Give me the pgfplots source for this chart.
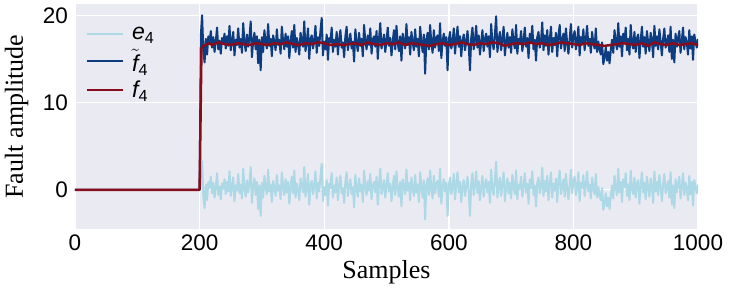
\documentclass[border=0pt]{standalone}
\usepackage{fontspec}
\setmainfont{Liberation Serif}
\newfontfamily\sfont{Liberation Sans}
\usepackage{pgfplots}
\pgfplotsset{compat=1.18}
\usepackage{pgfplotstable}
\definecolor{bg}{RGB}{234,234,242}
\definecolor{elight}{RGB}{173,216,230}
\definecolor{fdark}{RGB}{13,60,128}
\definecolor{fred}{RGB}{135,12,28}

\pgfplotstableread{
x e ft
0 0 0
200 0 0
202 1.0 17.7
204 3.3 20.0
206 -0.8 15.9
208 -2.1 14.6
210 0.6 17.3
212 -1.2 15.5
214 0.9 17.6
216 0.2 16.9
218 1.5 18.2
220 -0.4 16.3
222 0.8 17.5
224 -0.9 15.8
226 0.3 17.0
228 1.9 18.6
230 -0.6 16.1
232 0.4 17.1
234 -1.1 15.6
236 0.7 17.4
238 0.1 16.8
240 1.2 17.9
242 -0.5 16.2
244 0.9 17.6
246 -0.2 16.5
248 2.1 18.8
250 -0.7 16.0
252 0.3 17.0
254 1.4 18.1
256 -1.3 15.4
258 0.5 17.2
260 -0.1 16.6
262 1.8 18.5
264 -0.4 16.3
266 0.6 17.3
268 -1.0 15.7
270 2.4 19.1
272 0.2 16.9
274 -0.8 15.9
276 1.1 17.8
278 -0.3 16.4
280 0.7 17.4
282 2.6 19.3
284 -1.5 15.2
286 0.4 17.1
288 1.3 18.0
290 -0.6 16.1
292 0.9 17.6
294 -2.2 14.5
296 0.5 17.2
298 -3.0 13.7
300 0.8 17.5
302 -0.9 15.8
304 1.6 18.3
306 0.2 16.9
308 -0.5 16.2
310 2.3 19.0
312 -0.2 16.5
314 0.6 17.3
316 -1.4 15.3
318 1.0 17.7
320 0.3 17.0
322 -0.7 16.0
324 1.7 18.4
326 -0.1 16.6
328 0.5 17.2
330 -1.1 15.6
332 2.0 18.7
334 0.4 17.1
336 -0.6 16.1
338 1.2 17.9
340 -0.3 16.4
342 0.9 17.6
344 -1.6 15.1
346 0.3 17.0
348 1.5 18.2
350 -0.4 16.3
352 2.2 18.9
354 -0.9 15.8
356 0.7 17.4
358 0.1 16.8
360 -1.2 15.5
362 1.3 18.0
364 0.5 17.2
366 -0.3 16.4
368 2.6 19.3
370 -0.8 15.9
372 0.2 16.9
374 1.8 18.5
376 -1.7 15.0
378 0.6 17.3
380 1.0 17.7
382 -0.5 16.2
384 0.4 17.1
386 2.1 18.8
388 -1.0 15.7
390 0.8 17.5
392 -0.2 16.5
394 1.5 18.2
396 3.0 19.7
398 -1.3 15.4
400 0.3 17.0
402 -0.6 16.1
404 1.1 17.8
406 -1.8 14.9
408 0.7 17.4
410 0.2 16.9
412 1.9 18.6
414 -0.9 15.8
416 0.5 17.2
418 -0.3 16.4
420 1.4 18.1
422 -1.2 15.5
424 0.6 17.3
426 1.6 18.3
428 -0.4 16.3
430 0.2 16.9
432 -1.5 15.2
434 0.9 17.6
436 2.0 18.7
438 -0.7 16.0
440 0.4 17.1
442 1.2 17.9
444 -0.5 16.2
446 0.3 17.0
448 -2.0 14.7
450 1.7 18.4
452 0.1 16.8
454 -0.8 15.9
456 1.3 18.0
458 -0.2 16.5
460 0.6 17.3
462 -1.4 15.3
464 2.2 18.9
466 0.4 17.1
468 -0.6 16.1
470 1.0 17.7
472 -0.1 16.6
474 1.8 18.5
476 -1.1 15.6
478 0.5 17.2
480 0.9 17.6
482 -0.3 16.4
484 1.5 18.2
486 -1.7 15.0
488 0.6 17.3
490 2.4 19.1
492 -0.5 16.2
494 0.2 16.9
496 1.1 17.8
498 -0.9 15.8
500 0.4 17.1
502 1.9 18.6
504 -0.2 16.5
506 0.7 17.4
508 -1.3 15.4
510 0.3 17.0
512 1.6 18.3
514 -0.6 16.1
516 2.1 18.8
518 0.1 16.8
520 -0.8 15.9
522 0.9 17.6
524 -1.9 14.8
526 1.2 17.9
528 0.4 17.1
530 -0.5 16.2
532 2.3 19.0
534 -0.1 16.6
536 0.8 17.5
538 -1.2 15.5
540 1.4 18.1
542 0.2 16.9
544 -0.7 16.0
546 1.7 18.4
548 -0.3 16.4
550 0.6 17.3
552 -1.4 15.3
554 2.0 18.7
556 0.3 17.0
558 -0.9 15.8
560 1.1 17.8
562 -3.4 13.3
564 0.5 17.2
566 1.3 18.0
568 -0.6 16.1
570 2.2 18.9
572 0.1 16.8
574 -1.0 15.7
576 1.6 18.3
578 -0.4 16.3
580 0.7 17.4
582 1.0 17.7
584 -0.8 15.9
586 2.4 19.1
588 -1.6 15.1
590 0.3 17.0
592 1.2 17.9
594 -0.2 16.5
596 0.8 17.5
598 -3.0 13.7
600 0.5 17.2
602 1.4 18.1
604 -0.5 16.2
606 0.2 16.9
608 1.8 18.5
610 -1.1 15.6
612 0.6 17.3
614 2.0 18.7
616 -0.3 16.4
618 0.9 17.6
620 -1.4 15.3
622 0.4 17.1
624 1.1 17.8
626 -0.7 16.0
628 0.3 17.0
630 1.5 18.2
632 -0.2 16.5
634 -3.0 13.7
636 0.7 17.4
638 1.9 18.6
640 -0.6 16.1
642 0.5 17.2
644 2.1 18.8
646 -0.4 16.3
648 1.0 17.7
650 -1.2 15.5
652 0.3 17.0
654 1.6 18.3
656 -0.8 15.9
658 0.6 17.3
660 1.2 17.9
662 -0.3 16.4
664 0.9 17.6
666 -1.5 15.2
668 2.3 19.0
670 0.2 16.9
672 -0.6 16.1
674 1.1 17.8
676 3.2 19.9
678 -0.9 15.8
680 0.4 17.1
682 1.4 18.1
684 -0.7 16.0
686 0.6 17.3
688 2.0 18.7
690 -1.3 15.4
692 0.2 16.9
694 1.3 18.0
696 -0.4 16.3
698 0.8 17.5
700 -1.0 15.7
702 1.7 18.4
704 0.3 17.0
706 -0.5 16.2
708 2.2 18.9
710 -1.1 15.6
712 0.6 17.3
714 0.1 16.8
716 1.5 18.2
718 -0.8 15.9
720 0.4 17.1
722 1.9 18.6
724 -0.3 16.4
726 0.7 17.4
728 -1.6 15.1
730 1.2 17.9
732 0.2 16.9
734 2.1 18.8
736 -0.6 16.1
738 0.5 17.2
740 -1.9 14.8
742 0.8 17.5
744 1.4 18.1
746 -0.4 16.3
748 0.3 17.0
750 2.5 19.2
752 -0.7 16.0
754 1.0 17.7
756 -0.2 16.5
758 1.6 18.3
760 -1.2 15.5
762 0.5 17.2
764 2.0 18.7
766 -0.9 15.8
768 0.7 17.4
770 -0.1 16.6
772 1.3 18.0
774 -1.4 15.3
776 0.9 17.6
778 2.2 18.9
780 -0.5 16.2
782 0.4 17.1
784 1.2 17.9
786 -0.8 15.9
788 1.8 18.5
790 0.1 16.8
792 -1.1 15.6
794 0.6 17.3
796 2.3 19.0
798 -0.4 16.3
800 0.9 17.6
802 1.5 18.2
804 -0.6 16.1
806 0.3 17.0
808 2.0 18.7
810 -1.3 15.4
812 0.8 17.5
814 0.2 16.9
816 1.7 18.4
818 -0.7 16.0
820 0.5 17.2
822 2.1 18.8
824 -0.2 16.5
826 0.6 17.3
828 -1.0 15.7
830 1.4 18.1
832 0.1 16.8
834 -0.5 16.2
836 1.8 18.5
838 -0.9 15.8
840 0.3 17.0
842 -0.6 16.1
844 -1.2 15.5
846 0.2 16.9
848 -2.3 14.4
850 -1.5 15.2
852 -0.4 16.3
854 -1.9 14.8
856 -0.9 15.8
858 -2.2 14.5
860 -0.7 16.0
862 0.5 17.2
864 -1.0 15.7
866 1.6 18.3
868 0.2 16.9
870 -0.6 16.1
872 2.4 19.1
874 -0.3 16.4
876 0.9 17.6
878 -1.4 15.3
880 1.2 17.9
882 0.3 17.0
884 1.9 18.6
886 -0.7 16.0
888 0.6 17.3
890 -1.2 15.5
892 2.2 18.9
894 0.1 16.8
896 -0.5 16.2
898 1.4 18.1
900 -0.9 15.8
902 0.7 17.4
904 1.1 17.8
906 -1.6 15.1
908 0.4 17.1
910 2.0 18.7
912 -0.3 16.4
914 0.8 17.5
916 -1.1 15.6
918 1.5 18.2
920 0.2 16.9
922 -0.8 15.9
924 1.3 18.0
926 0.5 17.2
928 -1.5 15.2
930 2.1 18.8
932 -0.2 16.5
934 0.9 17.6
936 -0.6 16.1
938 1.7 18.4
940 0.3 17.0
942 -1.3 15.4
944 0.6 17.3
946 1.8 18.5
948 -0.4 16.3
950 0.2 16.9
952 1.0 17.7
954 -0.9 15.8
956 2.0 18.7
958 -1.7 15.0
960 0.5 17.2
962 -2.1 14.6
964 1.2 17.9
966 -0.3 16.4
968 0.7 17.4
970 1.5 18.2
972 -1.0 15.7
974 0.4 17.1
976 1.9 18.6
978 -0.6 16.1
980 0.8 17.5
982 0.2 16.9
984 -1.2 15.5
986 1.6 18.3
988 -0.5 16.2
990 0.9 17.6
992 -1.8 14.9
994 1.1 17.8
996 0.3 17.0
998 -0.4 16.3
1000 0.6 17.3
}\noisy

\pgfplotstableread{
x f
0 0
200 0
203 16.2
206 16.5
210 16.6
215 16.8
220 16.6
230 16.9
240 16.7
250 16.6
260 16.8
270 16.7
280 16.6
290 16.8
300 16.7
310 16.6
320 16.8
330 16.7
340 16.9
350 16.7
360 16.6
370 16.8
380 16.7
390 16.9
400 16.8
410 16.6
420 16.7
430 16.6
440 16.7
450 16.8
460 16.6
470 16.9
480 16.7
490 16.6
500 16.8
510 16.7
520 16.9
530 16.6
540 16.8
550 16.7
560 16.6
570 16.5
580 16.7
590 16.8
600 16.6
610 16.7
620 16.9
630 16.7
640 16.6
650 16.8
660 16.7
670 16.9
680 16.8
690 16.5
700 16.7
710 16.8
720 16.7
730 16.9
740 16.7
750 16.8
760 16.6
770 16.7
780 16.9
790 16.8
800 16.7
810 16.6
820 16.8
830 16.7
840 16.6
850 16.5
860 16.6
870 16.7
880 16.8
890 16.7
900 16.6
910 16.8
920 16.5
930 16.9
940 16.7
950 16.6
960 16.8
970 16.6
980 16.7
990 16.8
1000 16.6
}\smooth

\begin{document}
\begin{tikzpicture}
\path[use as bounding box] (-75pt,-60pt) rectangle (656pt,229pt);
\begin{axis}[
  at={(0pt,0pt)}, anchor=south west,
  scale only axis,
  width=623pt, height=225pt,
  xmin=0, xmax=1000, ymin=-4.5, ymax=21.3,
  xtick={0,200,400,600,800,1000},
  ytick={0,10,20},
  axis background/.style={fill=bg},
  grid=major,
  major grid style={white, line width=1.4pt},
  axis line style={draw=none},
  tick style={draw=none},
  tick label style={font=\sfont\fontsize{22.5}{26}\selectfont},
  yticklabel style={inner sep=3pt, xshift=-4pt},
  xticklabel style={inner sep=3pt, yshift=-3pt},
  /pgf/number format/assume math mode=true,
  /pgf/number format/1000 sep={},
  xlabel={Samples}, ylabel={Fault amplitude},
  label style={font=\fontsize{26}{30}\selectfont},
  xlabel style={at={(axis description cs:0.5,-0.2222)}, anchor=base},
  ylabel style={at={(axis description cs:-0.0835,0.5)}, anchor=base},
  legend style={at={(axis description cs:0.012,0.915)}, anchor=north west,
    draw=none, fill=none, font=\sfont\fontsize{23}{27}\selectfont,
    row sep=4pt, column sep=6pt,
    nodes={inner sep=2pt}},
  legend cell align=left,
  legend image code/.code={\draw[#1] (0pt,0pt) -- (36pt,0pt);},
  line join=round,
]
\addplot[elight, line width=2pt] table[x=x, y=e] {\noisy};
\addlegendentry{\itshape e\textsubscript{\upshape 4}}
\addplot[fdark, line width=2pt] table[x=x, y=ft] {\noisy};
\addlegendentry{$\tilde{\mbox{\sfont\itshape f}}$\textsubscript{\upshape 4}}
\addplot[fred, line width=2.5pt] table[x=x, y=f] {\smooth};
\addlegendentry{\itshape f\textsubscript{\upshape 4}}
\end{axis}
\end{tikzpicture}
\end{document}
